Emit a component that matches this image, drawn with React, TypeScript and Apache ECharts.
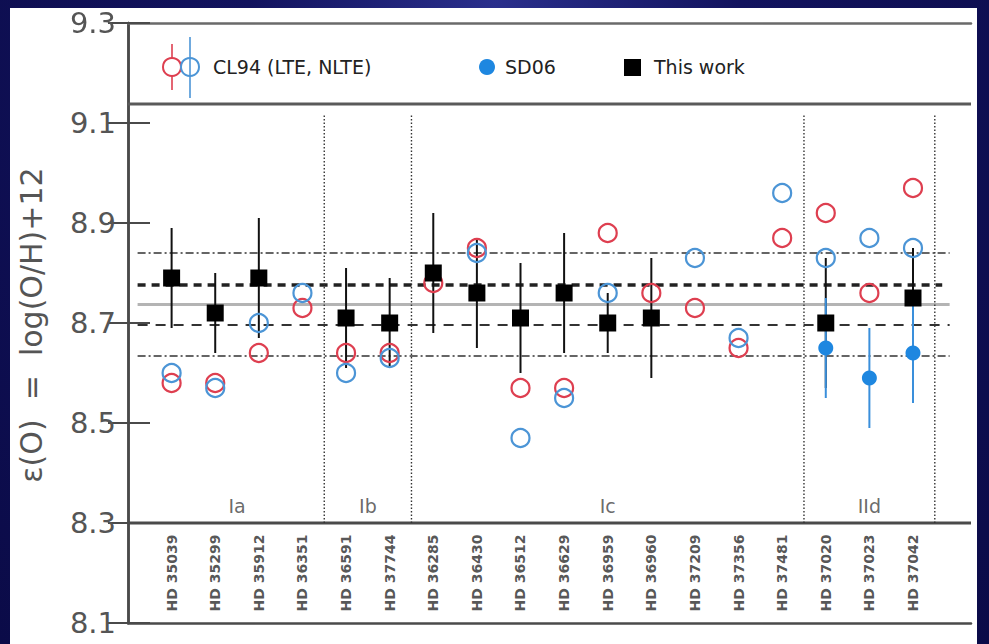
import React, { useEffect, useRef } from "react";
import * as echarts from "echarts";

// Stars, in plotting order (x = 1..18)
const stars = [
  "HD 35039", "HD 35299", "HD 35912", "HD 36351",
  "HD 36591", "HD 37744",
  "HD 36285", "HD 36430", "HD 36512", "HD 36629", "HD 36959", "HD 36960", "HD 37209", "HD 37356", "HD 37481",
  "HD 37020", "HD 37023", "HD 37042",
];

// Orion subgroups: name, first and last star index
const groupNames = ["Ia", "Ib", "Ic", "IId"];
const groupFirst = [1, 5, 7, 16];
const groupLast = [4, 6, 15, 18];
const groupSeparators = [4.5, 6.5, 15.5, 18.5];

// CL94 abundances (LTE and NLTE)
const cl94Lte = [8.58, 8.58, 8.64, 8.73, 8.64, 8.64, 8.78, 8.85, 8.57, 8.57, 8.88, 8.76, 8.73, 8.65, 8.87, 8.92, 8.76, 8.97];
const cl94Nlte = [8.60, 8.57, 8.70, 8.76, 8.60, 8.63, null, 8.84, 8.47, 8.55, 8.76, null, 8.83, 8.67, 8.96, 8.83, 8.87, 8.85];

// SD06 abundances and uncertainties
const sd06 = [null, null, null, null, null, null, null, null, null, null, null, null, null, null, null, 8.65, 8.59, 8.64];
const sd06Err = [null, null, null, null, null, null, null, null, null, null, null, null, null, null, null, 0.10, 0.10, 0.10];

// This work: abundances and uncertainties
const thisWork = [8.79, 8.72, 8.79, null, 8.71, 8.70, 8.80, 8.76, 8.71, 8.76, 8.70, 8.71, null, null, null, 8.70, null, 8.75];
const thisWorkErr = [0.10, 0.08, 0.12, null, 0.10, 0.09, 0.12, 0.11, 0.11, 0.12, 0.06, 0.12, null, null, null, 0.13, null, 0.10];

// Reference levels
const meanLevel = 8.737;
const sigmaLevels = [8.634, 8.840];
const dashedHigh = 8.776;
const dashedLow = 8.696;

// Panel boundaries
const legendPanelBottom = 9.138;
const labelPanelTop = 8.3;
const yMin = 8.1;
const yMax = 9.3;
const yStep = 0.2;

const RED = "#de3f50";
const BLUE_OPEN = "#4c95d6";
const BLUE_FILL = "#1e87e0";
const FONT = "DejaVu Sans";

const X_MAX = 19.33;

function hLine(y: number, x0: number, x1: number, lineStyle: any, z = 1) {
  return {
    type: "line",
    data: [[x0, y], [x1, y]],
    symbol: "none",
    silent: true,
    lineStyle,
    z,
  };
}

function errorBars(values: (number | null)[], errs: (number | null)[], color: string, width: number, z: number) {
  const data: number[][] = [];
  values.forEach((v, i) => {
    const e = errs[i];
    if (v != null && e != null) data.push([i + 1, v - e, v + e]);
  });
  return {
    type: "custom",
    data,
    encode: { x: 0, y: [1, 2] },
    silent: true,
    z,
    renderItem: (_params: any, api: any) => {
      const lo = api.coord([api.value(0), api.value(1)]);
      const hi = api.coord([api.value(0), api.value(2)]);
      return {
        type: "line",
        shape: { x1: lo[0], y1: lo[1], x2: hi[0], y2: hi[1] },
        style: { stroke: color, lineWidth: width },
      };
    },
  };
}

function points(values: (number | null)[]) {
  const out: number[][] = [];
  values.forEach((v, i) => {
    if (v != null) out.push([i + 1, v]);
  });
  return out;
}

export default function App() {
  const ref = useRef<HTMLDivElement>(null);

  useEffect(() => {
    if (!ref.current) return;
    const chart = echarts.init(ref.current, undefined, { renderer: "svg" });

    const frameColor = "#4a4a4a";

    const series: any[] = [
      // mean and dispersion levels
      hLine(meanLevel, 0.22, 18.84, { color: "#b4b4b4", width: 3, type: "solid" }, 1),
      hLine(sigmaLevels[0], 0.22, 18.84, { color: "#333", width: 1.6, type: [8, 3, 2, 3] }, 2),
      hLine(sigmaLevels[1], 0.22, 18.84, { color: "#333", width: 1.6, type: [8, 3, 2, 3] }, 2),
      hLine(dashedHigh, 0.22, 18.67, { color: "#222", width: 3.5, type: [8, 6] }, 2),
      hLine(dashedLow, 0.22, 18.84, { color: "#333", width: 2, type: [10, 8] }, 2),
      // panel boundaries
      hLine(legendPanelBottom, 0, X_MAX, { color: "#5a5a5a", width: 3 }, 2),
      hLine(labelPanelTop, 0, X_MAX, { color: frameColor, width: 3 }, 2),
      // group separators
      ...groupSeparators.map((x) => ({
        type: "line",
        data: [[x, labelPanelTop], [x, 9.116]],
        symbol: "none",
        silent: true,
        lineStyle: { color: "#333", width: 1.4, type: [1.5, 2] },
        z: 2,
      })),
      errorBars(thisWork, thisWorkErr, "#111", 2, 3),
      errorBars(sd06, sd06Err, "#3a8fdb", 2, 4),
      {
        type: "scatter",
        name: "CL94 LTE",
        data: points(cl94Lte),
        symbol: "circle",
        symbolSize: 18,
        itemStyle: { color: "rgba(0,0,0,0)", borderColor: RED, borderWidth: 2.2, opacity: 1 },
        z: 5,
      },
      {
        type: "scatter",
        name: "CL94 NLTE",
        data: points(cl94Nlte),
        symbol: "circle",
        symbolSize: 18,
        itemStyle: { color: "rgba(0,0,0,0)", borderColor: BLUE_OPEN, borderWidth: 2.2, opacity: 1 },
        z: 5,
      },
      {
        type: "scatter",
        name: "SD06",
        data: points(sd06),
        symbol: "circle",
        symbolSize: 15,
        itemStyle: { color: BLUE_FILL, opacity: 1 },
        z: 6,
      },
      {
        type: "scatter",
        name: "This work",
        data: points(thisWork),
        symbol: "rect",
        symbolSize: 17,
        itemStyle: { color: "#000", opacity: 1 },
        z: 7,
      },
      // star names in the lower panel
      {
        type: "scatter",
        silent: true,
        data: stars.map((s, i) => ({ value: [i + 1, (yMin + labelPanelTop) / 2], name: s })),
        symbolSize: 1,
        itemStyle: { color: "rgba(0,0,0,0)" },
        label: {
          show: true,
          position: "inside",
          rotate: 90,
          formatter: "{b}",
          fontFamily: FONT,
          fontSize: 14,
          fontWeight: "bold",
          color: "#2a2a2a",
        },
        z: 8,
      },
      // subgroup names
      {
        type: "scatter",
        silent: true,
        data: groupNames.map((g, k) => ({ value: [(groupFirst[k] + groupLast[k]) / 2, 8.335], name: g })),
        symbolSize: 1,
        itemStyle: { color: "rgba(0,0,0,0)" },
        label: {
          show: true,
          position: "inside",
          formatter: "{b}",
          fontFamily: FONT,
          fontSize: 19,
          color: "#444",
        },
        z: 8,
      },
    ];

    const yAxisBase = {
      type: "value",
      min: yMin,
      max: yMax,
      interval: yStep,
      splitLine: { show: false },
      axisLine: { show: true, lineStyle: { color: frameColor, width: 2.5 } },
    };

    chart.setOption({
      animation: false,
      backgroundColor: "transparent",
      grid: { left: 128, right: 18, top: 23, bottom: 21, containLabel: false },
      xAxis: [
        {
          type: "value",
          min: 0,
          max: X_MAX,
          position: "bottom",
          axisLine: { show: true, onZero: false, lineStyle: { color: frameColor, width: 2.5 } },
          axisTick: { show: false },
          axisLabel: { show: false },
          splitLine: { show: false },
        },
        {
          type: "value",
          min: 0,
          max: X_MAX,
          position: "top",
          axisLine: { show: true, onZero: false, lineStyle: { color: "#6a6a6a", width: 2.5 } },
          axisTick: { show: false },
          axisLabel: { show: false },
          splitLine: { show: false },
        },
      ],
      yAxis: [
        {
          ...yAxisBase,
          position: "left",
          axisTick: { show: true, inside: true, length: 22, lineStyle: { color: frameColor, width: 2 } },
          axisLabel: {
            show: true,
            margin: 12,
            fontFamily: FONT,
            fontSize: 29,
            color: "#555",
            formatter: (v: number) => v.toFixed(1),
          },
        },
        {
          ...yAxisBase,
          position: "right",
          axisTick: { show: true, inside: true, length: 20, lineStyle: { color: frameColor, width: 2 } },
          axisLabel: { show: false },
        },
      ],
      graphic: [
        {
          type: "text",
          x: 31,
          y: 325,
          rotation: Math.PI / 2,
          style: {
            text: "\u03b5(O)  =  log(O/H)+12",
            fontFamily: FONT,
            fontSize: 30,
            fill: "#555",
            align: "center",
            verticalAlign: "middle",
          },
        },
        // legend
        { type: "line", shape: { x1: 172, y1: 44, x2: 172, y2: 90 }, style: { stroke: RED, lineWidth: 1.6 } },
        { type: "circle", shape: { cx: 172, cy: 67, r: 9 }, style: { fill: "#fff", stroke: RED, lineWidth: 2 } },
        { type: "line", shape: { x1: 190, y1: 37, x2: 190, y2: 98 }, style: { stroke: BLUE_OPEN, lineWidth: 1.6 } },
        { type: "circle", shape: { cx: 190, cy: 67, r: 9 }, style: { fill: "rgba(0,0,0,0)", stroke: BLUE_OPEN, lineWidth: 2 } },
        {
          type: "text",
          x: 213,
          y: 67,
          style: { text: "CL94 (LTE, NLTE)", fontFamily: FONT, fontSize: 19, fill: "#222", verticalAlign: "middle" },
        },
        { type: "circle", shape: { cx: 487, cy: 67, r: 8 }, style: { fill: BLUE_FILL } },
        {
          type: "text",
          x: 505,
          y: 67,
          style: { text: "SD06", fontFamily: FONT, fontSize: 19, fill: "#222", verticalAlign: "middle" },
        },
        { type: "rect", shape: { x: 624, y: 59, width: 17, height: 17 }, style: { fill: "#000" } },
        {
          type: "text",
          x: 654,
          y: 67,
          style: { text: "This work", fontFamily: FONT, fontSize: 19, fill: "#222", verticalAlign: "middle" },
        },
      ],
      series,
    });

    return () => chart.dispose();
  }, []);

  return (
    <div
      style={{
        position: "fixed",
        left: 0,
        top: 0,
        width: 989,
        height: 644,
        background: "radial-gradient(ellipse at 50% 0%, #2a2f8c 0%, #12135e 35%, #0b0b48 100%)",
        overflow: "hidden",
      }}
    >
      <div style={{ position: "absolute", left: 10, top: 8, width: 967, height: 636, background: "#fff" }} />
      <div ref={ref} style={{ position: "absolute", left: 0, top: 0, width: 989, height: 644 }} />
    </div>
  );
}
